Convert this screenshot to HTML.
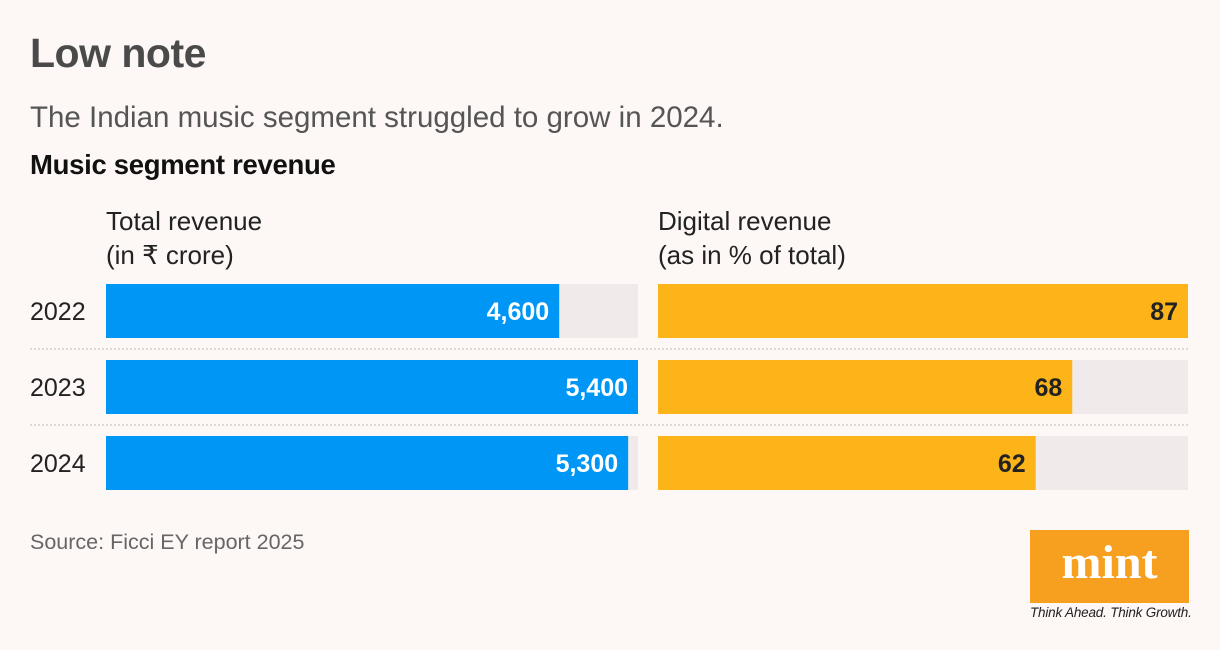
<!DOCTYPE html>
<html><head><meta charset="utf-8"><style>
body{margin:0;width:1220px;height:650px;background:#fdf7f6;font-family:"Liberation Sans",sans-serif;position:relative;overflow:hidden}
.t{position:absolute;white-space:nowrap}
</style></head><body>
<div class="t" style="left:30px;top:30px;font-size:41px;font-weight:bold;color:#4a4a4a;letter-spacing:-0.5px">Low note</div>
<div class="t" style="left:30px;top:101px;font-size:29.5px;color:#555;letter-spacing:0px">The Indian music segment struggled to grow in 2024.</div>
<div class="t" style="left:30px;top:149px;font-size:27.5px;font-weight:bold;color:#111;letter-spacing:-0.3px">Music segment revenue</div>
<div class="t" style="left:106px;top:204px;font-size:26px;color:#222;line-height:34px">Total revenue<br>(in ₹ crore)</div>
<div class="t" style="left:658px;top:204px;font-size:26px;color:#222;line-height:34px">Digital revenue<br>(as in % of total)</div>
<svg id="chart" width="1220" height="650" style="position:absolute;left:0;top:0"></svg>
<div class="t" style="left:30px;top:530px;font-size:21.5px;color:#666">Source: Ficci EY report 2025</div>
<div style="position:absolute;left:1030px;top:530px;width:159px;height:73px;background:#f79f1f;color:#fff;font-family:'Liberation Serif',serif;font-weight:bold;font-size:48px;text-align:center;line-height:66px">mint</div>
<div class="t" style="left:1030px;top:605px;font-size:13.5px;font-style:italic;color:#222;letter-spacing:-0.2px">Think Ahead. Think Growth.</div>
<script>
const years=["2022","2023","2024"];
const totalRevenue=[4600,5400,5300];
const totalLabels=["4,600","5,400","5,300"];
const digitalShare=[87,68,62];
const digitalLabels=["87","68","62"];
const svg=document.getElementById('chart');
const NS="http://www.w3.org/2000/svg";
function mk(t,a){const e=document.createElementNS(NS,t);for(const k in a)e.setAttribute(k,a[k]);svg.appendChild(e);return e;}
const lx=106,lw=532,rx=658,rw=530,top0=284,bh=54,step=76;
const lmax=Math.max(...totalRevenue),rmax=Math.max(...digitalShare);
const xl=v=>lw*v/lmax, xr=v=>rw*v/rmax, yb=i=>top0+i*step;
years.forEach((y,i)=>{
 const yy=yb(i);
 const yl=mk('text',{x:30,y:yy+bh/2+9,'font-size':25,fill:'#222'});yl.textContent=y;
 
 
 if(i>0){const s=mk('line',{x1:30,x2:1188,y1:yy-11,y2:yy-11,stroke:'#bbb','stroke-dasharray':'2,2'});
 
 }
 const t1=mk('rect',{x:lx,y:yy,width:lw,height:bh,fill:'#f0eaea'});
 
 
 const b1=mk('rect',{x:lx,y:yy,width:xl(totalRevenue[i]),height:bh,fill:'#0096f5'});
 
 
 const v1=mk('text',{x:lx+xl(totalRevenue[i])-10,y:yy+bh/2+9,'font-size':25,'font-weight':'bold',fill:'#fff','text-anchor':'end'});v1.textContent=totalLabels[i];
 
 
 const t2=mk('rect',{x:rx,y:yy,width:rw,height:bh,fill:'#f0eaea'});
 
 
 const b2=mk('rect',{x:rx,y:yy,width:xr(digitalShare[i]),height:bh,fill:'#fdb418'});
 
 
 const v2=mk('text',{x:rx+xr(digitalShare[i])-10,y:yy+bh/2+9,'font-size':25,'font-weight':'bold',fill:'#222','text-anchor':'end'});v2.textContent=digitalLabels[i];
 
 
});
</script>
</body></html>
